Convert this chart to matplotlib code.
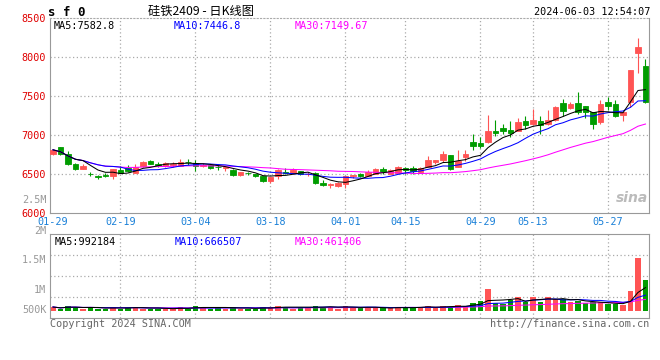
import matplotlib
matplotlib.use("Agg")
import matplotlib.pyplot as plt
import numpy as np
import pandas as pd

W, H = 660, 360

# trading days 2024-01-29 .. 2024-06-03 (exchange holidays removed)
holidays = ["2024-02-09", "2024-02-12", "2024-02-13", "2024-02-14", "2024-02-15",
            "2024-02-16", "2024-04-04", "2024-04-05", "2024-05-01", "2024-05-02",
            "2024-05-03"]
days = pd.bdate_range("2024-01-29", "2024-06-03")
days = days[~days.isin(pd.to_datetime(holidays))]
day_labels = list(days.strftime("%m-%d"))

opens = [6755, 6840, 6760, 6630, 6562, 6505, 6470, 6483, 6477, 6555,
         6572, 6515, 6597, 6665, 6625, 6598, 6620, 6605, 6658, 6645,
         6597, 6610, 6590, 6572, 6555, 6485, 6512, 6502, 6468, 6416,
         6468, 6522, 6510, 6536, 6500, 6510, 6390, 6362, 6348, 6375,
         6478, 6502, 6472, 6502, 6558, 6502, 6519, 6580, 6580, 6530,
         6596, 6660, 6682, 6738, 6587, 6716, 6905, 6896, 6908, 7050,
         7094, 7059, 7050, 7178, 7136, 7178, 7136, 7187, 7410, 7345,
         7410, 7367, 7294, 7165, 7423, 7402, 7252, 7423, 8052, 7880]
closes = [6810, 6760, 6625, 6560, 6605, 6500, 6465, 6478, 6567, 6515,
          6537, 6595, 6648, 6632, 6620, 6635, 6625, 6660, 6654, 6600,
          6620, 6580, 6585, 6588, 6485, 6520, 6508, 6472, 6408, 6459,
          6554, 6518, 6545, 6495, 6505, 6382, 6356, 6367, 6390, 6468,
          6483, 6472, 6528, 6570, 6530, 6554, 6587, 6554, 6536, 6580,
          6682, 6682, 6754, 6558, 6673, 6754, 6857, 6855, 7050, 7024,
          7050, 7024, 7165, 7123, 7196, 7127, 7196, 7358, 7307, 7393,
          7294, 7294, 7136, 7393, 7367, 7239, 7294, 7830, 8122, 7423]
highs = [6825, 6845, 6800, 6640, 6630, 6525, 6490, 6510, 6570, 6600,
         6610, 6630, 6665, 6682, 6648, 6660, 6650, 6695, 6690, 6675,
         6640, 6630, 6630, 6595, 6560, 6525, 6530, 6505, 6470, 6462,
         6560, 6580, 6575, 6540, 6520, 6520, 6420, 6390, 6400, 6470,
         6490, 6515, 6554, 6575, 6596, 6570, 6600, 6590, 6600, 6590,
         6725, 6685, 6793, 6740, 6802, 6802, 7007, 6980, 7252, 7187,
         7136, 7178, 7222, 7238, 7328, 7238, 7316, 7367, 7466, 7420,
         7551, 7375, 7300, 7444, 7487, 7444, 7300, 7835, 8250, 7980]
lows = [6745, 6750, 6610, 6555, 6560, 6480, 6435, 6459, 6433, 6510,
        6520, 6510, 6590, 6628, 6590, 6585, 6590, 6600, 6615, 6540,
        6585, 6560, 6555, 6537, 6480, 6480, 6490, 6460, 6400, 6390,
        6433, 6495, 6495, 6490, 6470, 6375, 6345, 6315, 6330, 6322,
        6455, 6465, 6468, 6500, 6502, 6500, 6510, 6502, 6505, 6520,
        6590, 6622, 6660, 6555, 6585, 6673, 6811, 6835, 6900, 6982,
        7007, 6973, 7045, 7080, 7130, 7016, 7130, 7180, 7239, 7330,
        7273, 7220, 7076, 7136, 7316, 7230, 7178, 7358, 7795, 7410]
# volume in thousands of lots
vol_k = [172, 100, 215, 172, 100, 172, 100, 100, 172, 100,
         172, 172, 100, 100, 100, 100, 100, 172, 100, 215,
         172, 100, 172, 100, 172, 100, 100, 100, 172, 172,
         215, 172, 100, 172, 172, 215, 172, 172, 100, 215,
         185, 116, 185, 116, 116, 116, 185, 185, 116, 185,
         228, 116, 228, 185, 259, 228, 358, 431, 961, 332,
         289, 474, 616, 375, 616, 401, 616, 517, 517, 375,
         431, 332, 375, 375, 289, 289, 259, 862, 2297, 1336]

tick_dates = ["01-29", "02-19", "03-04", "03-18", "04-01", "04-15", "04-29", "05-13", "05-27"]
price_ticks = [6000, 6500, 7000, 7500, 8000, 8500]
vol_labels = [("2.5M", 200), ("2M", 231), ("1.5M", 260), ("1M", 290), ("500K", 310)]

RED = "#ff5454"
GREEN = "#009c00"
GRID = "#aaaaaa"
SPINE = "#999999"
MONO = "DejaVu Sans Mono"
CJK = ["Noto Sans CJK SC", "DejaVu Sans"]

o = np.array(opens, float)
c = np.array(closes, float)
hi = np.array(highs, float)
lo = np.array(lows, float)
vol = np.array(vol_k, float) * 1000
x = np.arange(len(days))
tick_idx = [day_labels.index(d) for d in tick_dates]
colors = np.where(c >= o, RED, GREEN)

ma = {n: pd.Series(c).rolling(n, min_periods=1).mean() for n in (5, 10, 30)}
vma = {n: pd.Series(vol).rolling(n, min_periods=1).mean() for n in (5, 10, 30)}
ma_colors = {5: "black", 10: "#0000ff", 30: "#ff00ff"}

fig = plt.figure(figsize=(W / 100, H / 100), dpi=100)
fig.patch.set_facecolor("white")


def fx(px):
    return px / W


def fy(py):
    return 1 - py / H


ax = fig.add_axes([fx(50), fy(213), 599 / W, 195 / H])
axv = fig.add_axes([fx(50), fy(317.7), 599 / W, 83.7 / H])

# ---- price panel
ax.vlines(x, lo, hi, colors=colors, linewidth=0.8, zorder=2)
ax.bar(x, np.abs(c - o), bottom=np.minimum(o, c), width=0.74, color=colors,
       edgecolor=colors, linewidth=0.6, zorder=3)
for n in (30, 10, 5):
    ax.plot(x, ma[n], color=ma_colors[n], linewidth=0.75, zorder=4)

ax.set_xlim(-0.4, 79.47)
ax.set_ylim(6000, 8500)
for p in price_ticks[1:-1]:
    ax.axhline(p, color=GRID, linestyle=(0, (1, 2)), linewidth=0.9, zorder=1)
for i in tick_idx[1:]:
    ax.axvline(i, color=GRID, linestyle=(0, (1, 2)), linewidth=0.9, zorder=1)

ax.set_yticks(price_ticks, [str(p) for p in price_ticks])
ax.set_xticks(tick_idx, tick_dates)
ax.tick_params(axis="y", length=0, pad=3, labelcolor="#e00000", labelsize=7.3)
ax.tick_params(axis="x", length=0, pad=3, labelcolor="#1a80d8", labelsize=7.3)
for lab in ax.get_xticklabels() + ax.get_yticklabels():
    lab.set_fontfamily(MONO)
for s in ("left", "bottom", "right"):
    ax.spines[s].set_color(SPINE)
ax.spines["top"].set_color(GRID)
ax.spines["top"].set_linestyle((0, (1, 2)))

ax.text(0.006, 0.985, "MA5:7582.8", transform=ax.transAxes, color="black",
        fontfamily=MONO, fontsize=7.3, va="top")
ax.text(0.207, 0.985, "MA10:7446.8", transform=ax.transAxes, color="#0000ff",
        fontfamily=MONO, fontsize=7.3, va="top")
ax.text(0.408, 0.985, "MA30:7149.67", transform=ax.transAxes, color="#ff00ff",
        fontfamily=MONO, fontsize=7.3, va="top")
ax.text(0.998, 0.04, "sina", transform=ax.transAxes, color="#bbbbbb",
        fontsize=10, fontstyle="italic", fontweight="bold", ha="right", va="bottom")

# ---- volume panel
axv.bar(x, vol, width=0.76, color=colors, linewidth=0, zorder=2)
for n in (30, 10, 5):
    axv.plot(x, vma[n], color=ma_colors[n], linewidth=0.75, zorder=3)
axv.set_xlim(-0.4, 79.47)
axv.set_ylim(-289e3, 3319e3)
y0, y1 = axv.get_ylim()
for f in (0.25, 0.5, 0.75):
    axv.axhline(y0 + (y1 - y0) * f, color=GRID, linestyle=(0, (1, 2)), linewidth=0.9, zorder=1)
for i in tick_idx[1:]:
    axv.axvline(i, color=GRID, linestyle=(0, (1, 2)), linewidth=0.9, zorder=1)
axv.set_xticks([])
axv.set_yticks([])
for s in axv.spines.values():
    s.set_color(SPINE)

axv.text(0.008, 0.97, "MA5:992184", transform=axv.transAxes, color="black",
         fontfamily=MONO, fontsize=7.3, va="top")
axv.text(0.208, 0.97, "MA10:666507", transform=axv.transAxes, color="#0000ff",
         fontfamily=MONO, fontsize=7.3, va="top")
axv.text(0.408, 0.97, "MA30:461406", transform=axv.transAxes, color="#ff00ff",
         fontfamily=MONO, fontsize=7.3, va="top")

for txt, py in vol_labels:
    fig.text(fx(46.5), fy(py), txt, color="#999999", fontfamily=MONO,
             fontsize=7.3, ha="right", va="center")

# ---- header / footer
fig.text(fx(48), fy(12), "s f 0", fontfamily=MONO, fontweight="bold",
         fontsize=9, va="center", ha="left")
fig.text(fx(201), fy(11), "硅铁2409 - 日K线图", family=CJK, fontsize=8.8,
         va="center", ha="center")
fig.text(fx(650), fy(12), "2024-06-03 12:54:07", fontfamily=MONO, fontsize=7.3,
         va="center", ha="right")
fig.text(fx(50), fy(324), "Copyright 2024 SINA.COM", fontfamily=MONO,
         fontsize=7.3, color="#666666", va="center", ha="left")
fig.text(fx(649), fy(324), "http://finance.sina.com.cn", fontfamily=MONO,
         fontsize=7.3, color="#666666", va="center", ha="right")

fig.savefig("out.png", dpi=100)
